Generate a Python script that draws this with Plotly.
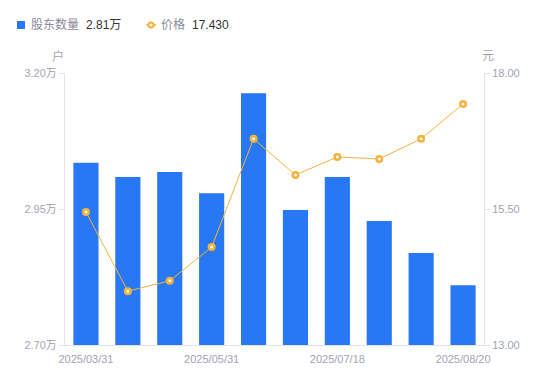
import plotly.graph_objects as go

dates = ["2025/03/31", "2025/04/15", "2025/04/30", "2025/05/31", "2025/06/15",
         "2025/06/30", "2025/07/18", "2025/07/31", "2025/08/10", "2025/08/20"]
holders = [3.035, 3.009, 3.018, 2.979, 3.163, 2.948, 3.009, 2.928, 2.869, 2.81]  # 万户
prices = [15.445, 13.99, 14.18, 14.80, 16.79, 16.125, 16.456, 16.42, 16.79, 17.43]
tick_dates = ["2025/03/31", "2025/05/31", "2025/07/18", "2025/08/20"]
left_ticks = [2.70, 2.95, 3.20]
right_ticks = [13.00, 15.50, 18.00]

BLUE = "#2878f5"
ORANGE = "#f7b23b"
GRAY = "#a3a3b3"
FONT = "'Liberation Sans', Arial, 'Noto Sans CJK SC', sans-serif"

# plot area on screen: x 65..484, y 73..345 (page has 8px body offset)
PX0, PX1, PY0, PY1 = 65, 484, 73, 345
def px(sx):
    return (sx - PX0) / (PX1 - PX0)
def py(sy):
    return (PY1 - sy) / (PY1 - PY0)

fig = go.Figure()
fig.add_trace(go.Bar(x=dates, y=holders, marker=dict(color=BLUE, line=dict(width=0)),
                     width=0.6, name="股东数量", yaxis="y"))
fig.add_trace(go.Scatter(x=dates, y=prices, mode="lines+markers", name="价格", yaxis="y2",
                         line=dict(color=ORANGE, width=1),
                         marker=dict(size=5.5, color="white", line=dict(color=ORANGE, width=2.5))))

fig.update_layout(
    width=550, height=381,
    margin=dict(l=57, r=74, t=65, b=44),
    plot_bgcolor="white", paper_bgcolor="white",
    showlegend=False, bargap=0.4,
    font=dict(family=FONT, size=11, color=GRAY),
    xaxis=dict(type="category", categoryorder="array", categoryarray=dates,
               range=[-0.5, len(dates) - 0.5],
               tickmode="array", tickvals=tick_dates, ticktext=tick_dates,
               showline=True, linecolor="#e3e3e8", linewidth=1, ticks="", showgrid=False,
               ticklabelstandoff=4,
               tickfont=dict(size=11, color=GRAY)),
    yaxis=dict(range=[2.70, 3.20], tickmode="array", tickvals=left_ticks,
               ticktext=[f"{v:.2f}万" for v in left_ticks],
               showline=True, linecolor="#e3e3e8", ticks="outside", ticklen=5, tickcolor="#e3e3e8",
               showgrid=False, zeroline=False, tickfont=dict(size=11, color=GRAY)),
    yaxis2=dict(range=[13.0, 18.0], overlaying="y", side="right", tickmode="array",
                tickvals=right_ticks, ticktext=[f"{v:.2f}" for v in right_ticks],
                showline=True, linecolor="#e3e3e8", ticks="outside", ticklen=5, tickcolor="#e3e3e8",
                showgrid=False, zeroline=False, tickfont=dict(size=11, color=GRAY)),
)

# Axis unit titles
fig.add_annotation(text="户", xref="paper", yref="paper", x=px(58), y=py(56),
                   showarrow=False, font=dict(size=12, color=GRAY), xanchor="center", yanchor="middle")
fig.add_annotation(text="元", xref="paper", yref="paper", x=px(488), y=py(56),
                   showarrow=False, font=dict(size=12, color=GRAY), xanchor="center", yanchor="middle")

# Custom legend
LY = 25
fig.add_shape(type="rect", xref="paper", yref="paper",
              x0=px(17), x1=px(25), y0=py(LY + 4), y1=py(LY - 4),
              fillcolor=BLUE, line=dict(width=0))
def legend_text(txt, sx, color):
    fig.add_annotation(text=txt, xref="paper", yref="paper", x=px(sx), y=py(LY),
                       xanchor="left", yanchor="middle", showarrow=False,
                       font=dict(size=12, color=color))
legend_text("股东数量", 29, "#8a8a99")
legend_text(f"{holders[-1]:.2f}万", 84, "#333333")
fig.add_shape(type="line", xref="paper", yref="paper",
              x0=px(146), x1=px(156), y0=py(LY), y1=py(LY),
              line=dict(color=ORANGE, width=1.5))
fig.add_shape(type="circle", xref="paper", yref="paper",
              x0=px(148.5), x1=px(153.5), y0=py(LY + 2.5), y1=py(LY - 2.5),
              fillcolor="white", line=dict(color=ORANGE, width=2))
legend_text("价格", 159, "#8a8a99")
legend_text(f"{prices[-1]:.3f}", 190, "#333333")

fig.write_html("out.html")
